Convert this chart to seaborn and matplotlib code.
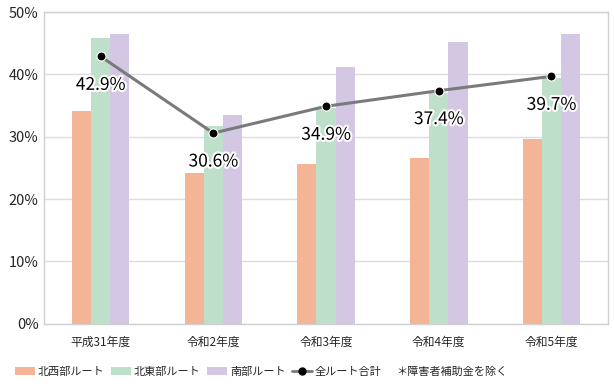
"""Route ratio by fiscal year: grouped bars plus overall line."""

import matplotlib
matplotlib.use("Agg")
import matplotlib.pyplot as plt
import matplotlib.patheffects as pe
from matplotlib.lines import Line2D
from matplotlib.patches import Patch
import numpy as np
import pandas as pd
import seaborn as sns

years = ["平成31年度", "令和2年度", "令和3年度", "令和4年度", "令和5年度"]
routes = ["北西部ルート", "北東部ルート", "南部ルート"]
northwest = [34.1, 24.2, 25.6, 26.6, 29.6]
northeast = [45.8, 31.7, 34.6, 37.0, 39.4]
south = [46.5, 33.5, 41.2, 45.2, 46.5]
total = [42.9, 30.6, 34.9, 37.4, 39.7]
total_label = "全ルート合計"
note = "＊障害者補助金を除く"

colors = ["#F4B597", "#BEDFCA", "#D4C7E3"]

sns.set_theme(style="white")
plt.rcParams["font.family"] = ["Noto Sans CJK JP", "DejaVu Sans"]

df = pd.DataFrame({
    "year": years * 3,
    "route": [r for r in routes for _ in years],
    "value": northwest + northeast + south,
})

fig = plt.figure(figsize=(6.14, 3.92), dpi=100)
ax = fig.add_axes([0.072, 0.174, 0.918, 0.795])

sns.barplot(data=df, x="year", y="value", hue="route", hue_order=routes,
            palette=colors, width=0.51, gap=0, ax=ax, legend=False,
            saturation=1, edgecolor="none")

xs = np.arange(len(years))
ax.plot(xs, total, color="#7a7a7a", linewidth=2.2, marker="o", markersize=6.5,
        markerfacecolor="black", markeredgecolor="white", markeredgewidth=0.8,
        zorder=5)
for x, v in zip(xs, total):
    ax.annotate(f"{v}%", (x, v), xytext=(0, -14), textcoords="offset points",
                ha="center", va="top", fontsize=12.5, color="black", zorder=6,
                path_effects=[pe.withStroke(linewidth=3, foreground="white")])

ax.set_ylim(0, 50)
ax.set_xlim(-0.5, len(years) - 0.5)
ax.set_yticks(range(0, 51, 10))
ax.set_yticklabels([f"{t}%" for t in range(0, 51, 10)], fontsize=10.5)
ax.tick_params(axis="x", labelsize=8.5, length=0, pad=9)
ax.tick_params(axis="y", length=0, pad=4)
ax.set_xlabel("")
ax.set_ylabel("")
ax.yaxis.grid(True, color="#dcdcdc", linewidth=1)
ax.set_axisbelow(True)
for s in ax.spines.values():
    s.set_color("#d0d0d0")
    s.set_linewidth(1)

handles = [Patch(facecolor=c, edgecolor="none") for c in colors]
handles.append(Line2D([0], [0], color="#7a7a7a", linewidth=2, marker="o",
                      markersize=5, markerfacecolor="black",
                      markeredgecolor="black"))
fig.legend(handles, routes + [total_label], loc="center left",
           bbox_to_anchor=(0.024, 0.051), ncol=4, frameon=False, fontsize=8,
           handlelength=1.8, handleheight=0.7, handletextpad=0.25,
           columnspacing=0.6, borderaxespad=0, borderpad=0)
fig.text(0.645, 0.051, note, fontsize=8, ha="left", va="center")

fig.savefig("out.png", dpi=100)
